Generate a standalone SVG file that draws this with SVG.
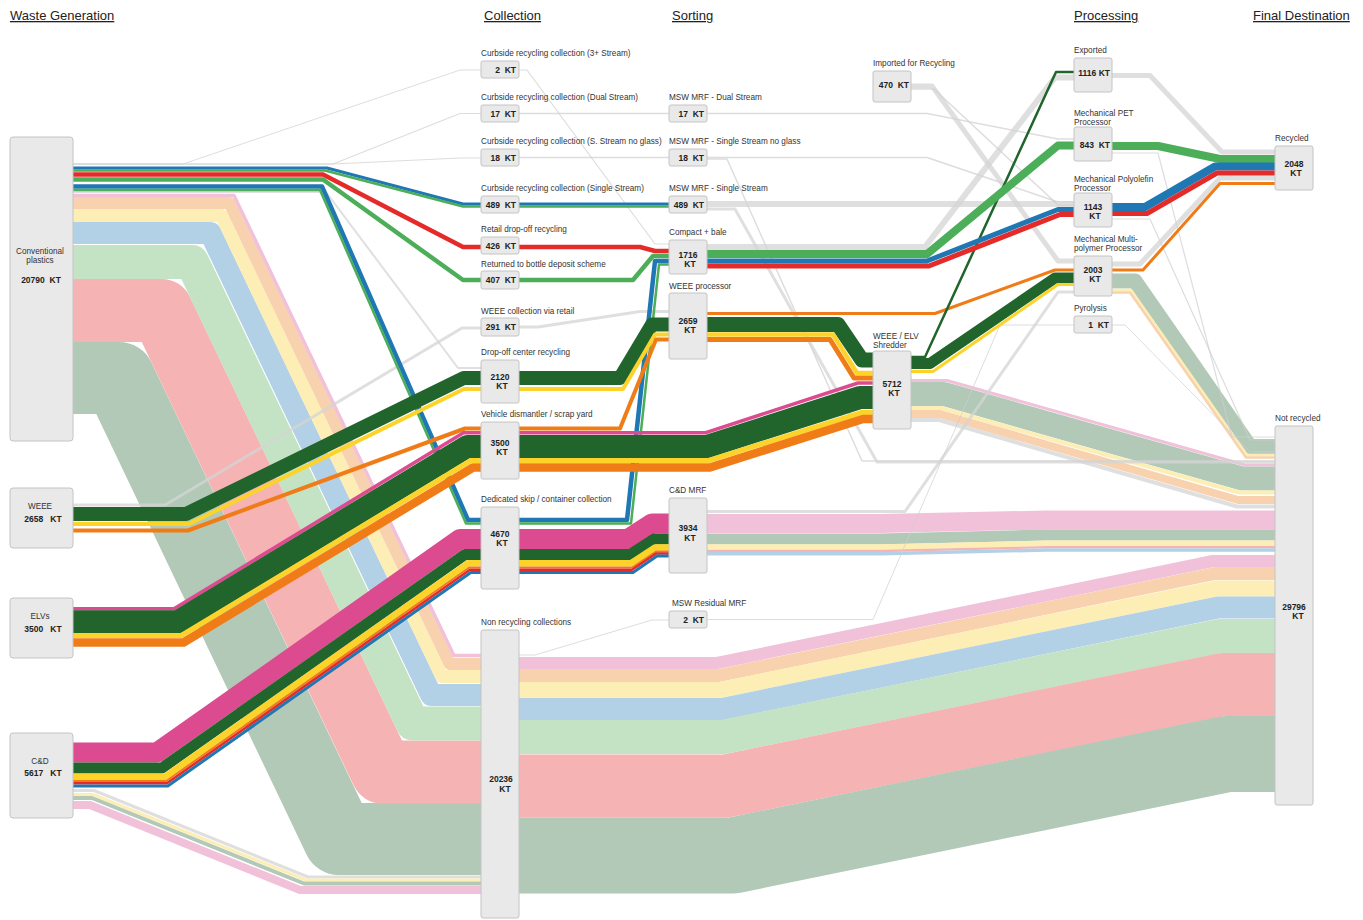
<svg xmlns="http://www.w3.org/2000/svg" width="1363" height="920" viewBox="0 0 1363 920">
<style>
.f path{fill:none;stroke-linejoin:round}
.gy{stroke:#d4d4d4;stroke-opacity:.75}
.gt{stroke:#cfcfcf;stroke-opacity:.7}
.bl{stroke:#1f78b4}.gr{stroke:#4cae58}.rd{stroke:#e52a2a}.dg{stroke:#21652d}
.ye{stroke:#fdd32a}.or{stroke:#f07c18}.mg{stroke:#dc4b8f}
.lp{stroke:#f1c1da}.pe{stroke:#f8d1ae}.ly{stroke:#fdeeb5}.lb{stroke:#b2d0e6}
.lg{stroke:#c4e3c5}.sa{stroke:#f5b3b3}.sg{stroke:#b2c9b7}
.n rect{fill:#e9e9e9;stroke:#c4c4c4;stroke-width:1}
.l{font-family:'Liberation Sans',Arial,sans-serif;font-size:8.2px;fill:#333}
.v{font-family:'Liberation Sans',Arial,sans-serif;font-size:8.5px;font-weight:bold;fill:#222}
.c{text-anchor:middle}.e{text-anchor:end}
.h{font-family:'Liberation Sans',Arial,sans-serif;font-size:13px;fill:#222;text-decoration:underline}
</style>
<rect width="1363" height="920" fill="#fff"/>
<g id="headers">
<text class="h" x="10" y="20">Waste Generation</text>
<text class="h" x="484" y="20">Collection</text>
<text class="h" x="672" y="20">Sorting</text>
<text class="h" x="1074" y="20">Processing</text>
<text class="h" x="1253" y="20">Final Destination</text>
</g>
<g id="connectors" class="f">
<!-- pastel: conventional to non recycling -->
<path class="sg" stroke-width="72" d="M73,378H119L339,839H481"/>
<path class="sa" stroke-width="63" d="M73,310.5H161.6L382.2,772H481"/>
<path class="lg" stroke-width="34" d="M73,262H192L412.7,723.5H481"/>
<path class="lb" stroke-width="22" d="M73,233H210.4L431.2,695H481"/>
<path class="ly" stroke-width="13" d="M73,215.5H221.4L441.8,676.5H481"/>
<path class="pe" stroke-width="12" d="M73,203H229.3L449.7,664H481"/>
<path class="lp" stroke-width="3.5" d="M73,195.5H234L453.9,655.5H481"/>
<!-- C&D pastel to non recycling -->
<path class="gy" stroke-width="3" d="M73,790.5H94L308,877H481"/>
<path class="ly" stroke-width="3" d="M73,794.5H93L306,880H481"/>
<path class="sg" stroke-width="4" d="M73,798H92L304,883.5H481"/>
<path class="lp" stroke-width="8" d="M73,805H90L300,890H481"/>
<!-- non recycling to not recycled -->
<path class="lp" stroke-width="12" d="M519,663H717L1213,561H1275"/>
<path class="pe" stroke-width="13" d="M519,675.5H719L1215,573.5H1275"/>
<path class="ly" stroke-width="16" d="M519,690H720L1216,588.5H1275"/>
<path class="lb" stroke-width="22" d="M519,709H722L1218,607.5H1275"/>
<path class="lg" stroke-width="34" d="M519,737H723L1220,636H1275"/>
<path class="sa" stroke-width="63" d="M519,786H726L1223,684.5H1275"/>
<path class="sg" stroke-width="76" d="M519,855.5H733L1227,754H1275"/>
<!-- C&D MRF to not recycled -->
<path class="lp" stroke-width="19" d="M707,523.5H880L1047,520H1275"/>
<path class="sg" stroke-width="11" d="M707,539H880L1047,535H1275"/>
<path class="ly" stroke-width="5.5" d="M707,547H880L1047,543.3H1275"/>
<path class="sa" stroke-width="2.3" d="M707,551H880L1047,547.2H1275"/>
<path class="lb" stroke-width="3.4" d="M707,553.8H880L1047,550H1275"/>
<!-- shredder to not recycled -->
<path class="lp" stroke-width="3" d="M911,380.5H947L1245,465H1275"/>
<path class="sg" stroke-width="24" d="M911,394H944L1242,478.5H1275"/>
<path class="ly" stroke-width="4" d="M911,408H941L1239,492.5H1275"/>
<path class="pe" stroke-width="8" d="M911,414H940L1238,500H1275"/>
<path class="gy" stroke-width="4" d="M911,420H939L1237,506.5H1275"/>
<!-- multi-polymer to not recycled -->
<path class="sg" stroke-width="15" d="M1112,281H1135L1250,446.5H1275"/>
<path class="ly" stroke-width="2.5" d="M1112,290H1131L1247,455H1275"/>
<path class="pe" stroke-width="2.5" d="M1112,292.5H1130L1246,457.5H1275"/>
<!-- grey links -->
<path class="gt" stroke-width="1" d="M73,164H183L460,70H481"/>
<path class="gt" stroke-width="1.2" d="M73,164H333L460,113.5H481"/>
<path class="gt" stroke-width="1.2" d="M73,164H333L460,158H481"/>
<path class="gy" stroke-width="2" d="M73,192H326L458,368H481"/>
<path class="gy" stroke-width="3" d="M73,505H165L462,328H481"/>
<path class="gy" stroke-width="3" d="M519,327H538L640,311.5H669"/>
<path class="gt" stroke-width="1.2" d="M519,70H527L655,244H669"/>
<path class="gt" stroke-width="1.5" d="M519,113.5H669"/>
<path class="gt" stroke-width="1.5" d="M519,157.5H669"/>
<path class="gt" stroke-width="1.5" d="M707,113.5H927L1058,139H1074"/>
<path class="gt" stroke-width="1.5" d="M707,157.5H927L1058,202H1074"/>
<path class="gt" stroke-width="1.5" d="M707,159H727L862,461H1275"/>
<path class="gy" stroke-width="3" d="M707,209H735L877,462H1275"/>
<path class="gy" stroke-width="6" d="M707,204H1074"/>
<path class="gy" stroke-width="6" d="M707,247H925L1055,77.5H1074"/>
<path class="gy" stroke-width="5" d="M911,86H932L1058,261H1074"/>
<path class="gt" stroke-width="1.5" d="M911,89H934L1058,205H1074"/>
<path class="gy" stroke-width="3" d="M707,511.5H905L1058,292H1074"/>
<path class="gt" stroke-width="1" d="M519,655H535L652,620H669"/>
<path class="gt" stroke-width="1" d="M707,619.5H873L1000,325H1074"/>
<path class="gt" stroke-width="1" d="M1112,325H1125L1250,452H1275"/>
<path class="gt" stroke-width="1.2" d="M1112,219H1150L1250,440H1275"/>
<path class="gt" stroke-width="1.2" d="M1112,153H1158L1232,437H1275"/>
<path class="gy" stroke-width="5" d="M1112,75.5H1150L1222,152H1275"/>
<path class="gy" stroke-width="5" d="M1112,264H1140L1220,178H1275"/>
<!-- conventional recycled flows -->
<path class="bl" stroke-width="3" d="M73,168H327L463,204H669"/>
<path class="gr" stroke-width="2.5" d="M73,170.5H325L463,206.5H669"/>
<path class="rd" stroke-width="4.5" d="M73,174.5H323L463,247H640L655,251H669"/>
<path class="gr" stroke-width="4.5" d="M73,179.5H323L463,280H633L653,256H669"/>
<path class="bl" stroke-width="4.5" d="M73,186.5H322L468,520H627L655,261H669"/>
<path class="gr" stroke-width="2.5" d="M73,190H320L466,523.5H631L659,264.5H669"/>
<!-- WEEE -->
<path class="dg" stroke-width="14" d="M73,514H186L463.7,378H620L652,324.5H669"/>
<path class="ye" stroke-width="4" d="M73,524H189L464,389H623L655,334.5H669"/>
<path class="or" stroke-width="4" d="M73,530.5H188L465,428.5H620L656,339.5H669"/>
<!-- ELVs -->
<path class="mg" stroke-width="3.5" d="M73,608.8H174L463.5,432.8H705L858,383H873"/>
<path class="dg" stroke-width="23" d="M73,621.8H177.7L467.2,446.5H707L860,397.5H873"/>
<path class="ye" stroke-width="5" d="M73,635.5H181.5L470.9,460.5H709L862,412.5H873"/>
<path class="or" stroke-width="8.5" d="M73,642.5H183.5L473,467.5H710L863,419H873"/>
<!-- C&D -->
<path class="mg" stroke-width="20" d="M73,752.5H157L460,539H628L652,523.5H669"/>
<path class="dg" stroke-width="11" d="M73,768H162L465,554.5H630L654,539H669"/>
<path class="ye" stroke-width="6.5" d="M73,776.8H164.9L467.9,563.3H631L655,547.5H669"/>
<path class="or" stroke-width="2" d="M73,781H166.2L469.2,567.5H632L656,551.5H669"/>
<path class="rd" stroke-width="2.5" d="M73,783.3H166.9L469.9,569.8H632L656,553.5H669"/>
<path class="bl" stroke-width="3" d="M73,786H167.8L470.8,572.5H633L657,556H669"/>
<!-- WEEE processor out -->
<path class="or" stroke-width="3" d="M707,313.5H935L1055,270H1074"/>
<path class="dg" stroke-width="15" d="M707,324.5H838L862,360H873"/>
<path class="ye" stroke-width="4.5" d="M707,334.5H833L857,373H873"/>
<path class="or" stroke-width="5" d="M707,339.5H830L854,378H873"/>
<!-- shredder out -->
<path class="dg" stroke-width="11" d="M911,363.5H930L1055,278H1074"/>
<path class="ye" stroke-width="3" d="M911,371.5H933L1058,284.5H1074"/>
<path class="dg" stroke-width="2.5" d="M911,357H925L1056,72H1074"/>
<!-- compact + bale out -->
<path class="gr" stroke-width="8" d="M707,254H927L1058,145.5H1074"/>
<path class="bl" stroke-width="5" d="M707,261H927L1058,209.5H1074"/>
<path class="rd" stroke-width="5" d="M707,266H929L1060,214.5H1074"/>
<!-- processing to recycled -->
<path class="gr" stroke-width="8" d="M1112,146H1158L1220,159H1275"/>
<path class="bl" stroke-width="8" d="M1112,207H1145L1215,166.5H1275"/>
<path class="rd" stroke-width="5" d="M1112,213.5H1147L1217,173H1275"/>
<path class="or" stroke-width="3" d="M1112,270H1143L1220,183.5H1275"/>
</g>
<g id="n-conventional" class="n"><rect x="10" y="137" width="63" height="304" rx="3"/>
<text class="l c" x="40" y="254">Conventional</text><text class="l c" x="40" y="263">plastics</text><text class="v c" x="41" y="283">20790&#160; KT</text></g>
<g id="n-weee" class="n"><rect x="10" y="488" width="63" height="60" rx="3"/>
<text class="l c" x="40" y="509">WEEE</text><text class="v c" x="43" y="522">2658&#160;&#160; KT</text></g>
<g id="n-elvs" class="n"><rect x="10" y="598" width="63" height="60" rx="3"/>
<text class="l c" x="40" y="619">ELVs</text><text class="v c" x="43" y="632">3500&#160;&#160; KT</text></g>
<g id="n-cd" class="n"><rect x="10" y="733" width="63" height="85" rx="3"/>
<text class="l c" x="40" y="764">C&amp;D</text><text class="v c" x="43" y="776">5617&#160;&#160; KT</text></g>
<g id="n-c3" class="n"><text class="l" x="481" y="56">Curbside recycling collection (3+ Stream)</text><rect x="481" y="61" width="38" height="17" rx="2"/><text class="v e" x="516" y="72.5">2&#160; KT</text></g>
<g id="n-cdual" class="n"><text class="l" x="481" y="100">Curbside recycling collection (Dual Stream)</text><rect x="481" y="105" width="38" height="17" rx="2"/><text class="v e" x="516" y="116.5">17&#160; KT</text></g>
<g id="n-cnog" class="n"><text class="l" x="481" y="144">Curbside recycling collection (S. Stream no glass)</text><rect x="481" y="149" width="38" height="17" rx="2"/><text class="v e" x="516" y="160.5">18&#160; KT</text></g>
<g id="n-csingle" class="n"><text class="l" x="481" y="191">Curbside recycling collection (Single Stream)</text><rect x="481" y="196" width="38" height="17" rx="2"/><text class="v e" x="516" y="207.5">489&#160; KT</text></g>
<g id="n-retail" class="n"><text class="l" x="481" y="232">Retail drop-off recycling</text><rect x="481" y="237" width="38" height="17" rx="2"/><text class="v e" x="516" y="248.5">426&#160; KT</text></g>
<g id="n-bottle" class="n"><text class="l" x="481" y="267">Returned to bottle deposit scheme</text><rect x="481" y="271" width="38" height="18" rx="2"/><text class="v e" x="516" y="283">407&#160; KT</text></g>
<g id="n-weeeretail" class="n"><text class="l" x="481" y="314">WEEE collection via retail</text><rect x="481" y="318" width="38" height="18" rx="2"/><text class="v e" x="516" y="330">291&#160; KT</text></g>
<g id="n-dropoff" class="n"><text class="l" x="481" y="355">Drop-off center recycling</text><rect x="481" y="360" width="38" height="43" rx="2"/><text class="v c" x="500" y="380">2120</text><text class="v c" x="502" y="389">KT</text></g>
<g id="n-vehicle" class="n"><text class="l" x="481" y="417">Vehicle dismantler / scrap yard</text><rect x="481" y="422" width="38" height="57" rx="2"/><text class="v c" x="500" y="446">3500</text><text class="v c" x="502" y="455">KT</text></g>
<g id="n-skip" class="n"><text class="l" x="481" y="502">Dedicated skip / container collection</text><rect x="481" y="507" width="38" height="82" rx="2"/><text class="v c" x="500" y="537">4670</text><text class="v c" x="502" y="546">KT</text></g>
<g id="n-nonrec" class="n"><text class="l" x="481" y="625">Non recycling collections</text><rect x="481" y="630" width="38" height="288" rx="2"/><text class="v c" x="501" y="782">20236</text><text class="v c" x="505" y="792">KT</text></g>
<g id="n-mrfdual" class="n"><text class="l" x="669" y="100">MSW MRF - Dual Stream</text><rect x="669" y="105" width="38" height="17" rx="2"/><text class="v e" x="704" y="116.5">17&#160; KT</text></g>
<g id="n-mrfnog" class="n"><text class="l" x="669" y="144">MSW MRF - Single Stream no glass</text><rect x="669" y="149" width="38" height="17" rx="2"/><text class="v e" x="704" y="160.5">18&#160; KT</text></g>
<g id="n-mrfsingle" class="n"><text class="l" x="669" y="191">MSW MRF - Single Stream</text><rect x="669" y="196" width="38" height="17" rx="2"/><text class="v e" x="704" y="207.5">489&#160; KT</text></g>
<g id="n-compact" class="n"><text class="l" x="669" y="235">Compact + bale</text><rect x="669" y="240" width="38" height="34" rx="2"/><text class="v c" x="688" y="258">1716</text><text class="v c" x="690" y="267">KT</text></g>
<g id="n-weeeproc" class="n"><text class="l" x="669" y="289">WEEE processor</text><rect x="669" y="293" width="38" height="66" rx="2"/><text class="v c" x="688" y="324">2659</text><text class="v c" x="690" y="333">KT</text></g>
<g id="n-cdmrf" class="n"><text class="l" x="669" y="493">C&amp;D MRF</text><rect x="669" y="498" width="38" height="75" rx="2"/><text class="v c" x="688" y="531">3934</text><text class="v c" x="690" y="541">KT</text></g>
<g id="n-residual" class="n"><text class="l" x="672" y="606">MSW Residual MRF</text><rect x="669" y="611" width="38" height="17" rx="2"/><text class="v e" x="704" y="622.5">2&#160; KT</text></g>
<g id="n-imported" class="n"><text class="l" x="873" y="66">Imported for Recycling</text><rect x="873" y="71" width="38" height="31" rx="2"/><text class="v e" x="909" y="88">470&#160; KT</text></g>
<g id="n-shredder" class="n"><text class="l" x="873" y="339">WEEE / ELV</text><text class="l" x="873" y="348">Shredder</text><rect x="873" y="351" width="38" height="78" rx="2"/><text class="v c" x="892" y="387">5712</text><text class="v c" x="894" y="396">KT</text></g>
<g id="n-exported" class="n"><text class="l" x="1074" y="53">Exported</text><rect x="1074" y="58" width="38" height="34" rx="2"/><text class="v e" x="1110" y="75.5">1116 KT</text></g>
<g id="n-pet" class="n"><text class="l" x="1074" y="116">Mechanical PET</text><text class="l" x="1074" y="125">Processor</text><rect x="1074" y="127" width="38" height="34" rx="2"/><text class="v e" x="1110" y="148">843&#160; KT</text></g>
<g id="n-polyolefin" class="n"><text class="l" x="1074" y="182">Mechanical Polyolefin</text><text class="l" x="1074" y="191">Processor</text><rect x="1074" y="193" width="38" height="34" rx="2"/><text class="v c" x="1093" y="210">1143</text><text class="v c" x="1095" y="219">KT</text></g>
<g id="n-multipolymer" class="n"><text class="l" x="1074" y="242">Mechanical Multi-</text><text class="l" x="1074" y="251">polymer Processor</text><rect x="1074" y="256" width="38" height="40" rx="2"/><text class="v c" x="1093" y="273">2003</text><text class="v c" x="1095" y="282">KT</text></g>
<g id="n-pyrolysis" class="n"><text class="l" x="1074" y="311">Pyrolysis</text><rect x="1074" y="316" width="38" height="17" rx="2"/><text class="v e" x="1109" y="327.5">1&#160; KT</text></g>
<g id="n-recycled" class="n"><text class="l" x="1275" y="141">Recycled</text><rect x="1275" y="146" width="38" height="44" rx="2"/><text class="v c" x="1294" y="167">2048</text><text class="v c" x="1296" y="176">KT</text></g>
<g id="n-notrecycled" class="n"><text class="l" x="1275" y="421">Not recycled</text><rect x="1275" y="426" width="38" height="379" rx="2"/><text class="v c" x="1294" y="610">29796</text><text class="v c" x="1298" y="619">KT</text></g>
</svg>
